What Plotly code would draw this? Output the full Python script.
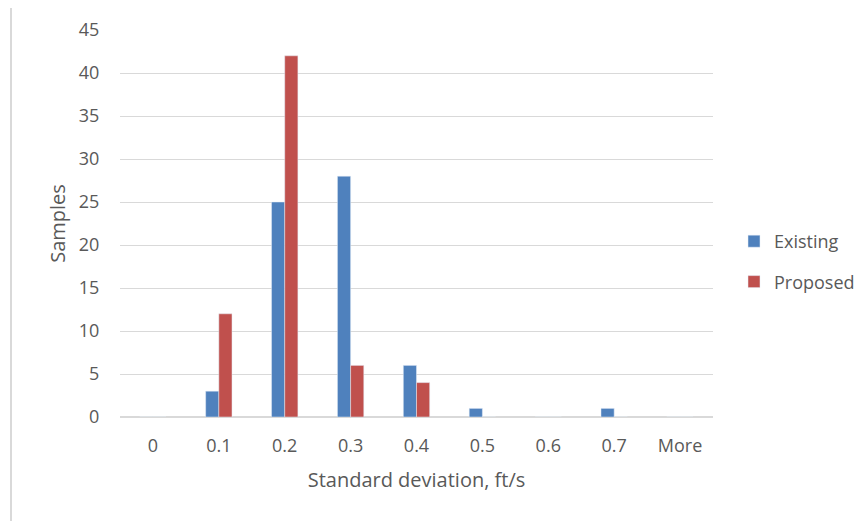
import plotly.graph_objects as go

categories = ["0", "0.1", "0.2", "0.3", "0.4", "0.5", "0.6", "0.7", "More"]
existing = [0, 3, 25, 28, 6, 1, 0, 1, 0]
proposed = [0, 12, 42, 6, 4, 0, 0, 0, 0]

OFF = 8  # default page body margin
W, H = 867 - OFF, 521 - OFF
L, R, T, B = 120 - OFF, 154, 30 - OFF, 104

fig = go.Figure()
fig.add_trace(go.Bar(x=categories, y=existing, name="Existing", marker_color="#4F81BD",
                     legendgroup="a"))
fig.add_trace(go.Bar(x=categories, y=proposed, name="Proposed", marker_color="#C0504D",
                     legendgroup="b"))

font = "'Open Sans', Lato, sans-serif"
pw, ph = W - L - R, H - T - B
# chart border (in paper coords)
fig.add_shape(type="rect", xref="paper", yref="paper",
              x0=(11 - OFF - L) / pw, x1=(W + 10 - L) / pw,
              y0=-(B + 10) / ph, y1=1 + (T + 3) / ph,
              line=dict(color="#d9d9d9", width=2), fillcolor="rgba(0,0,0,0)")

fig.update_layout(
    width=W, height=H,
    margin=dict(l=L, r=R, t=T, b=B, autoexpand=False),
    paper_bgcolor="white", plot_bgcolor="white",
    barmode="group", bargap=0.6, bargroupgap=0,
    font=dict(family=font, size=18, color="#595959"),
    showlegend=True,
    legend=dict(x=1 + (734 - 713) / pw, y=1 - (261.5 - 30) / 387, xanchor="left", yanchor="middle",
                tracegroupgap=14, font=dict(size=18, color="#595959"),
                itemwidth=30, traceorder="grouped"),
    xaxis=dict(title=dict(text="Standard deviation, ft/s", font=dict(size=20, color="#595959"), standoff=17),
               showgrid=False, showline=True, linecolor="#d9d9d9", linewidth=1,
               ticks="outside", ticklen=12, tickcolor="rgba(0,0,0,0)"),
    yaxis=dict(title=dict(text="Samples", font=dict(size=20, color="#595959"), standoff=7),
               range=[0, 45], dtick=5, showgrid=True, gridcolor="#d9d9d9", gridwidth=1,
               zeroline=True, zerolinecolor="#d9d9d9",
               ticks="outside", ticklen=16, tickcolor="rgba(0,0,0,0)"),
)

fig.write_html("out.html")
